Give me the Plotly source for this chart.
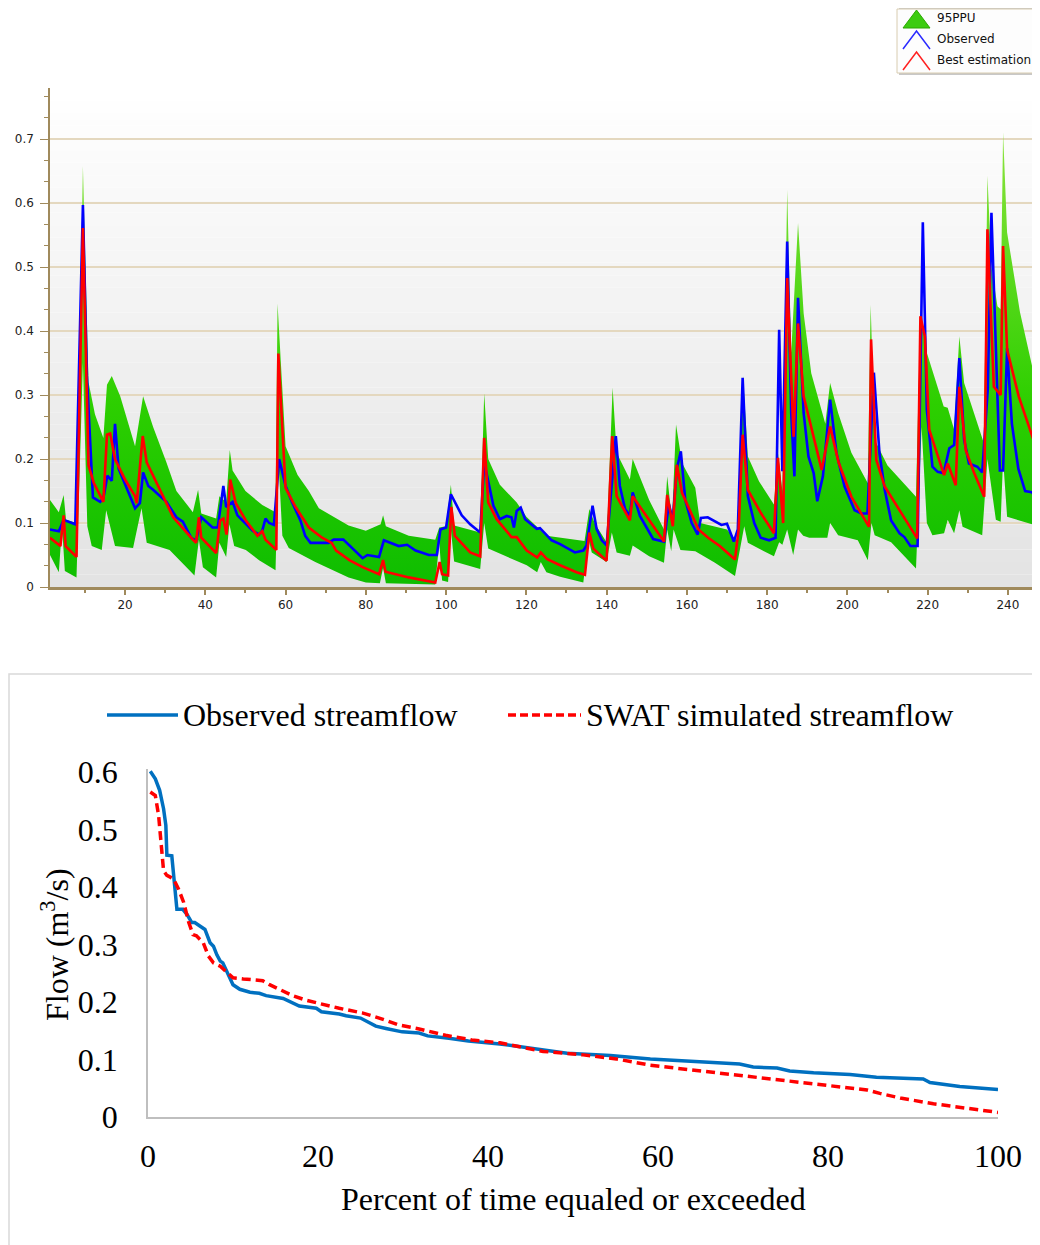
import plotly.graph_objects as go

W, H = 1040, 1245
OFF = 8  # page body margin offset compensation


def px(x):
    return (x - OFF) / W


def py(y):
    return 1 - (y - OFF) / H


# ---------------- Top panel data (x = time step, y = flow) ----------------
obs_pts = [
    (1.3, 0.090), (3.5, 0.087), (4.7, 0.105), (7.6, 0.098), (9.5, 0.597), (10.5, 0.33),
    (12.0, 0.140), (13.8, 0.133), (14.6, 0.139), (15.6, 0.174), (16.7, 0.166), (17.5, 0.255),
    (18.4, 0.185), (20.0, 0.160), (22.5, 0.123), (23.7, 0.131), (24.5, 0.179), (25.8, 0.158),
    (27.0, 0.152), (30.3, 0.133), (32.8, 0.109), (34.4, 0.102), (36.5, 0.077), (37.7, 0.072),
    (39.0, 0.109), (41.8, 0.093), (43.1, 0.093), (44.5, 0.158), (45.2, 0.125), (46.8, 0.133),
    (48.0, 0.112), (51.8, 0.088), (53.4, 0.082), (54.2, 0.088), (55.0, 0.107), (55.9, 0.100),
    (57.1, 0.097), (58.4, 0.200), (60.0, 0.158), (61.6, 0.133), (63.7, 0.104), (64.9, 0.080),
    (66.2, 0.069), (70.7, 0.069), (72.0, 0.074), (74.4, 0.074), (75.7, 0.066), (79.2, 0.045),
    (80.4, 0.050), (83.3, 0.047), (84.5, 0.073), (88.2, 0.064), (90.3, 0.066), (92.4, 0.057),
    (95.7, 0.050), (97.7, 0.050), (98.6, 0.090), (100.0, 0.093), (101.2, 0.145), (102.3, 0.131),
    (103.9, 0.112), (106.0, 0.098), (108.5, 0.085), (109.5, 0.195), (111.8, 0.127), (113.4, 0.106),
    (115.1, 0.111), (116.3, 0.109), (116.9, 0.093), (117.6, 0.119), (118.6, 0.124), (119.7, 0.106),
    (122.6, 0.091), (123.4, 0.092), (126.3, 0.073), (128.4, 0.067), (132.1, 0.054), (134.2, 0.057),
    (135.0, 0.065), (136.5, 0.127), (137.5, 0.091), (138.8, 0.073), (140.0, 0.065), (142.3, 0.236),
    (143.3, 0.158), (144.6, 0.122), (145.8, 0.111), (146.5, 0.148), (148.3, 0.111), (151.6, 0.075),
    (154.3, 0.071), (155.5, 0.130), (156.5, 0.105), (157.5, 0.185), (158.5, 0.212), (159.6, 0.136),
    (161.2, 0.100), (162.7, 0.082), (163.5, 0.108), (165.2, 0.109), (167.0, 0.103), (168.6, 0.097),
    (170.0, 0.099), (171.7, 0.071), (172.7, 0.090), (173.9, 0.327), (175.2, 0.142), (176.8, 0.100),
    (178.4, 0.077), (180.5, 0.073), (182.1, 0.077), (183.0, 0.402), (183.8, 0.181), (185.0, 0.540),
    (186.0, 0.272), (186.8, 0.173), (187.7, 0.452), (189.1, 0.272), (190.3, 0.204), (191.6, 0.178),
    (192.5, 0.134), (193.9, 0.173), (195.7, 0.293), (197.3, 0.209), (199.3, 0.157), (201.8, 0.120),
    (203.5, 0.115), (205.0, 0.115), (206.6, 0.335), (208.0, 0.209), (209.3, 0.152), (210.9, 0.104),
    (213.0, 0.084), (214.2, 0.078), (215.7, 0.064), (217.5, 0.064), (218.8, 0.570), (219.8, 0.277),
    (221.2, 0.188), (222.5, 0.180), (224.0, 0.178), (225.4, 0.217), (226.6, 0.222), (227.9, 0.358),
    (229.1, 0.230), (230.3, 0.193), (232.4, 0.188), (233.6, 0.179), (235.0, 0.310), (235.9, 0.585),
    (238.0, 0.182), (238.8, 0.182), (239.8, 0.373), (241.0, 0.255), (242.6, 0.185), (244.3, 0.150),
    (246.0, 0.148), (247.2, 0.139), (248.0, 0.137),
]

best_pts = [
    (1.3, 0.077), (3.9, 0.064), (4.7, 0.112), (5.2, 0.064), (7.9, 0.047), (9.5, 0.561),
    (10.9, 0.190), (12.2, 0.163), (14.6, 0.133), (15.5, 0.238), (16.3, 0.240), (17.5, 0.200),
    (20.0, 0.168), (22.5, 0.142), (22.9, 0.131), (24.4, 0.236), (25.4, 0.195), (27.8, 0.163),
    (32.0, 0.109), (36.9, 0.074), (37.7, 0.069), (38.4, 0.109), (39.0, 0.077), (42.7, 0.053),
    (43.7, 0.104), (44.5, 0.107), (45.3, 0.082), (46.2, 0.168), (47.6, 0.131), (50.1, 0.104),
    (53.0, 0.080), (54.2, 0.087), (55.0, 0.074), (57.7, 0.058), (58.2, 0.365), (60.0, 0.155),
    (62.5, 0.125), (65.8, 0.093), (69.1, 0.077), (71.5, 0.069), (72.6, 0.057), (75.9, 0.042),
    (79.2, 0.031), (83.3, 0.020), (84.3, 0.042), (84.9, 0.024), (90.7, 0.015), (97.3, 0.007),
    (98.4, 0.039), (99.0, 0.020), (100.5, 0.018), (101.3, 0.125), (102.2, 0.080), (106.0, 0.054),
    (108.5, 0.048), (109.5, 0.233), (110.5, 0.132), (112.6, 0.106), (116.3, 0.078), (117.6, 0.078),
    (120.1, 0.057), (122.7, 0.046), (123.6, 0.054), (125.1, 0.044), (128.4, 0.034), (132.5, 0.023),
    (134.6, 0.019), (135.7, 0.085), (136.7, 0.060), (140.0, 0.041), (141.4, 0.236), (142.5, 0.142),
    (145.8, 0.104), (146.5, 0.142), (153.3, 0.080), (154.3, 0.071), (155.1, 0.144), (156.5, 0.095),
    (157.5, 0.191), (158.8, 0.147), (162.9, 0.090), (165.3, 0.077), (168.2, 0.064), (172.0, 0.043),
    (172.9, 0.090), (173.9, 0.238), (175.2, 0.152), (178.4, 0.116), (181.7, 0.084), (182.7, 0.202),
    (184.0, 0.100), (185.0, 0.483), (186.6, 0.235), (187.7, 0.412), (189.1, 0.298), (191.6, 0.235),
    (193.6, 0.183), (195.7, 0.251), (197.8, 0.195), (201.0, 0.141), (205.4, 0.094), (205.9, 0.387),
    (207.2, 0.199), (209.3, 0.157), (213.4, 0.115), (217.4, 0.076), (218.2, 0.423), (219.3, 0.392),
    (220.4, 0.246), (222.5, 0.204), (224.1, 0.175), (225.0, 0.193), (227.0, 0.159), (227.9, 0.313),
    (229.5, 0.214), (231.6, 0.178), (234.1, 0.141), (234.9, 0.559), (236.5, 0.313), (238.2, 0.300),
    (238.8, 0.533), (239.8, 0.371), (242.7, 0.298), (248.0, 0.200),
]

ppu_upper_pts = [
    (1.3, 0.136), (3.5, 0.117), (4.7, 0.144), (5.3, 0.105), (7.9, 0.100), (9.5, 0.658),
    (10.9, 0.320), (12.5, 0.270), (14.6, 0.233), (15.5, 0.316), (16.7, 0.330), (18.8, 0.298),
    (22.5, 0.220), (24.5, 0.298), (27.0, 0.250), (30.3, 0.195), (32.8, 0.150), (36.9, 0.117),
    (38.2, 0.152), (39.0, 0.115), (42.7, 0.107), (43.5, 0.142), (45.2, 0.133), (46.1, 0.214),
    (46.8, 0.182), (50.0, 0.150), (54.2, 0.128), (57.5, 0.117), (58.0, 0.443), (60.0, 0.220),
    (63.0, 0.175), (65.8, 0.150), (68.3, 0.123), (75.7, 0.096), (80.0, 0.088), (83.7, 0.098),
    (84.3, 0.112), (85.0, 0.095), (90.7, 0.080), (97.3, 0.074), (98.3, 0.093), (100.0, 0.095),
    (101.2, 0.160), (102.0, 0.096), (108.5, 0.085), (109.5, 0.303), (110.5, 0.200), (113.4, 0.160),
    (117.6, 0.132), (120.0, 0.110), (125.0, 0.080), (134.5, 0.072), (135.7, 0.122), (137.0, 0.100),
    (140.0, 0.070), (141.5, 0.312), (142.5, 0.210), (145.8, 0.168), (146.5, 0.200), (150.6, 0.136),
    (154.3, 0.090), (155.1, 0.173), (156.3, 0.105), (157.3, 0.254), (158.8, 0.194), (162.1, 0.155),
    (163.3, 0.100), (170.0, 0.090), (172.7, 0.070), (174.0, 0.330), (175.2, 0.204), (178.0, 0.165),
    (181.7, 0.129), (182.7, 0.210), (183.8, 0.150), (185.0, 0.621), (186.0, 0.366), (187.7, 0.569),
    (189.1, 0.428), (191.0, 0.334), (194.5, 0.255), (195.7, 0.319), (197.7, 0.272), (201.0, 0.210),
    (205.1, 0.162), (205.8, 0.441), (206.8, 0.230), (210.0, 0.190), (217.1, 0.141), (218.2, 0.430),
    (219.8, 0.366), (224.0, 0.282), (225.0, 0.280), (226.6, 0.246), (227.9, 0.392), (229.1, 0.319),
    (234.0, 0.225), (234.9, 0.643), (235.9, 0.500), (237.4, 0.439), (238.2, 0.434), (238.8, 0.711),
    (239.8, 0.554), (243.0, 0.430), (248.0, 0.290),
]

ppu_lower_pts = [
    (1.3, 0.050), (3.5, 0.023), (4.3, 0.095), (5.0, 0.025), (7.9, 0.015), (9.5, 0.350),
    (10.6, 0.095), (11.7, 0.064), (14.2, 0.058), (15.3, 0.120), (17.5, 0.064), (22.0, 0.061),
    (24.1, 0.123), (25.4, 0.069), (31.1, 0.058), (37.3, 0.018), (38.4, 0.074), (39.4, 0.031),
    (42.7, 0.015), (43.5, 0.069), (45.2, 0.047), (46.0, 0.098), (47.2, 0.064), (50.1, 0.058),
    (53.4, 0.042), (57.5, 0.026), (58.2, 0.200), (59.2, 0.080), (60.8, 0.061), (67.4, 0.039),
    (75.7, 0.015), (80.0, 0.007), (83.5, 0.006), (84.3, 0.030), (85.0, 0.006), (97.3, 0.004),
    (98.3, 0.070), (99.0, 0.010), (100.5, 0.008), (101.2, 0.090), (102.0, 0.040), (108.5, 0.028),
    (109.5, 0.100), (110.5, 0.060), (114.3, 0.049), (120.1, 0.034), (122.7, 0.023), (123.6, 0.039),
    (125.0, 0.023), (128.4, 0.016), (134.2, 0.007), (135.5, 0.075), (136.3, 0.054), (140.0, 0.039),
    (141.3, 0.085), (142.5, 0.054), (145.8, 0.049), (146.5, 0.065), (150.6, 0.048), (154.3, 0.038),
    (155.1, 0.090), (156.1, 0.056), (156.7, 0.090), (158.4, 0.058), (162.1, 0.056), (167.0, 0.038),
    (172.0, 0.017), (174.3, 0.095), (175.2, 0.069), (181.7, 0.048), (183.0, 0.070), (183.8, 0.066),
    (185.0, 0.090), (186.5, 0.050), (187.7, 0.090), (189.0, 0.080), (190.5, 0.077), (195.0, 0.077),
    (195.7, 0.100), (197.7, 0.081), (202.6, 0.073), (205.1, 0.042), (206.0, 0.100), (206.8, 0.081),
    (210.9, 0.070), (217.1, 0.029), (218.5, 0.250), (219.8, 0.100), (221.2, 0.081), (224.1, 0.084),
    (225.0, 0.105), (226.6, 0.084), (227.9, 0.120), (228.7, 0.094), (233.6, 0.081), (234.9, 0.200),
    (237.0, 0.105), (238.2, 0.102), (238.8, 0.200), (239.8, 0.110), (248.0, 0.094),
]

# ---------------- Bottom panel data (flow duration curves) ----------------
fdc_obs_pts = [
    (0.27, 0.601), (0.86, 0.588), (1.37, 0.568), (1.83, 0.536), (2.1, 0.507), (2.22, 0.455),
    (2.8, 0.454), (3.0, 0.419), (3.4, 0.361), (4.1, 0.361), (4.6, 0.352), (5.15, 0.338),
    (5.5, 0.338), (6.1, 0.332), (6.7, 0.326), (7.3, 0.303), (7.7, 0.297), (8.1, 0.282),
    (8.5, 0.271), (8.8, 0.268), (9.4, 0.248), (10.0, 0.230), (10.8, 0.222), (12.0, 0.217),
    (13.1, 0.215), (13.9, 0.211), (15.9, 0.206), (16.7, 0.200), (17.8, 0.193), (19.8, 0.189),
    (20.4, 0.183), (22.5, 0.179), (23.3, 0.176), (25.0, 0.172), (25.8, 0.166), (26.8, 0.158),
    (28.0, 0.154), (29.9, 0.148), (31.9, 0.146), (32.9, 0.141), (35.4, 0.137), (37.7, 0.132),
    (41.4, 0.127), (45.3, 0.119), (49.3, 0.111), (54.4, 0.107), (59.1, 0.101), (64.9, 0.096),
    (69.6, 0.092), (71.2, 0.087), (74.0, 0.085), (75.5, 0.080), (78.3, 0.077), (82.6, 0.074),
    (85.7, 0.069), (91.2, 0.066), (92.0, 0.060), (95.5, 0.053), (100.0, 0.048),
]

fdc_sim_pts = [
    (0.27, 0.565), (0.86, 0.559), (1.25, 0.524), (1.52, 0.478), (1.83, 0.428), (2.22, 0.420),
    (3.0, 0.414), (3.6, 0.396), (4.2, 0.373), (4.8, 0.338), (5.3, 0.317), (5.7, 0.315),
    (6.5, 0.303), (7.1, 0.280), (7.7, 0.268), (8.5, 0.262), (9.2, 0.252), (10.0, 0.242),
    (11.2, 0.240), (13.5, 0.237), (14.3, 0.230), (15.5, 0.221), (17.0, 0.211), (18.6, 0.203),
    (20.2, 0.197), (22.5, 0.189), (25.2, 0.181), (27.2, 0.172), (29.5, 0.160), (31.9, 0.153),
    (35.0, 0.142), (38.1, 0.134), (41.4, 0.129), (46.5, 0.114), (51.2, 0.108), (55.1, 0.101),
    (59.1, 0.090), (63.8, 0.082), (68.9, 0.073), (73.6, 0.066), (78.7, 0.057), (84.6, 0.047),
    (86.1, 0.041), (88.5, 0.033), (92.4, 0.023), (98.1, 0.011), (100.0, 0.008),
]

top_y_ticks = [0, 0.1, 0.2, 0.3, 0.4, 0.5, 0.6, 0.7]
top_y_labels = ["0", "0.1", "0.2", "0.3", "0.4", "0.5", "0.6", "0.7"]
top_x_ticks = [20, 40, 60, 80, 100, 120, 140, 160, 180, 200, 220, 240]
bot_x_ticks = [0, 20, 40, 60, 80, 100]
bot_y_ticks = [0, 0.1, 0.2, 0.3, 0.4, 0.5, 0.6]
bot_y_labels = ["0", "0.1", "0.2", "0.3", "0.4", "0.5", "0.6"]


def unzip(pts):
    return [p[0] for p in pts], [p[1] for p in pts]


fig = go.Figure()

# 95PPU band as a closed polygon
ux, uy = unzip(ppu_upper_pts)
lx, ly = unzip(ppu_lower_pts)
fig.add_trace(go.Scatter(
    x=ux + lx[::-1], y=uy + ly[::-1], mode="lines", fill="toself",
    line=dict(width=0, color="rgba(0,0,0,0)"),
    fillgradient=dict(type="vertical", start=0, stop=0.72,
                      colorscale=[[0, "#0ebd00"], [0.4, "#2dcf00"], [1, "#8ee43e"]]),
    xaxis="x", yaxis="y", showlegend=False, hoverinfo="skip", name="95PPU"))

ox, oy = unzip(obs_pts)
fig.add_trace(go.Scatter(x=ox, y=oy, mode="lines", line=dict(color="#0000ff", width=2.6),
                         xaxis="x", yaxis="y", showlegend=False, name="Observed"))
bx, by = unzip(best_pts)
fig.add_trace(go.Scatter(x=bx, y=by, mode="lines", line=dict(color="#ff0000", width=2.6),
                         xaxis="x", yaxis="y", showlegend=False, name="Best estimation"))

fx, fy = unzip(fdc_obs_pts)
fig.add_trace(go.Scatter(x=fx, y=fy, mode="lines", line=dict(color="#0070c0", width=3.5),
                         xaxis="x2", yaxis="y2", showlegend=False, name="Observed streamflow"))
sx, sy = unzip(fdc_sim_pts)
fig.add_trace(go.Scatter(x=sx, y=sy, mode="lines",
                         line=dict(color="#ff0000", width=3.5, dash="9px,5px"),
                         xaxis="x2", yaxis="y2", showlegend=False, name="SWAT simulated streamflow"))

shapes = []
# top plot background gradient (white at top -> light grey at bottom)
N = 40
for i in range(N):
    t = (i + 0.5) / N
    g = int(round(0xe3 + (0xff - 0xe3) * t))
    shapes.append(dict(type="rect", xref="x domain", yref="y domain", x0=0, x1=1,
                       y0=i / N, y1=(i + 1) / N, fillcolor=f"rgb({g},{g},{g})",
                       line=dict(width=0), layer="below"))

# top legend box
shapes.append(dict(type="rect", xref="paper", yref="paper", x0=px(899), x1=px(1043),
                   y0=py(75), y1=py(7), fillcolor="#c8c8c8", line=dict(width=0)))
shapes.append(dict(type="rect", xref="paper", yref="paper", x0=px(897), x1=px(1041),
                   y0=py(73), y1=py(9), fillcolor="#fdfdfd", line=dict(color="#d8ccb0", width=1)))
shapes.append(dict(type="path", xref="paper", yref="paper",
                   path=f"M {px(903)},{py(28)} L {px(916.5)},{py(10)} L {px(930)},{py(28)} Z",
                   fillcolor="#3ccc10", line=dict(color="#2aa800", width=1)))
shapes.append(dict(type="path", xref="paper", yref="paper",
                   path=f"M {px(903)},{py(49)} L {px(916.5)},{py(31)} L {px(930)},{py(49)}",
                   line=dict(color="#2a2aff", width=1.5)))
shapes.append(dict(type="path", xref="paper", yref="paper",
                   path=f"M {px(903)},{py(70)} L {px(916.5)},{py(52)} L {px(930)},{py(70)}",
                   line=dict(color="#ff2020", width=1.5)))

# bottom panel frame
shapes.append(dict(type="rect", xref="paper", yref="paper", x0=px(9), x1=px(1060),
                   y0=py(1270), y1=py(674), line=dict(color="#d9d9d9", width=1.5)))
# bottom legend samples
shapes.append(dict(type="line", xref="paper", yref="paper", x0=px(107), x1=px(178),
                   y0=py(715), y1=py(715), line=dict(color="#0070c0", width=3.5)))
shapes.append(dict(type="line", xref="paper", yref="paper", x0=px(508), x1=px(581),
                   y0=py(715), y1=py(715), line=dict(color="#ff0000", width=3.5, dash="8px,4px")))

serif = "Liberation Serif, Times New Roman, serif"
sans = "DejaVu Sans, Verdana, sans-serif"
annotations = [
    dict(text="95PPU", x=px(935), y=py(18), xref="paper", yref="paper", xanchor="left",
         yanchor="middle", showarrow=False, font=dict(family=sans, size=12, color="#111")),
    dict(text="Observed", x=px(935), y=py(39), xref="paper", yref="paper", xanchor="left",
         yanchor="middle", showarrow=False, font=dict(family=sans, size=12, color="#111")),
    dict(text="Best estimation", x=px(935), y=py(60), xref="paper", yref="paper", xanchor="left",
         yanchor="middle", showarrow=False, font=dict(family=sans, size=12, color="#111")),
    dict(text="Observed streamflow", x=px(181), y=py(715), xref="paper", yref="paper",
         xanchor="left", yanchor="middle", showarrow=False,
         font=dict(family=serif, size=32, color="#000")),
    dict(text="SWAT simulated streamflow", x=px(584), y=py(715), xref="paper", yref="paper",
         xanchor="left", yanchor="middle", showarrow=False,
         font=dict(family=serif, size=32, color="#000")),
    dict(text="Flow (m<sup>3</sup>/s)", x=px(55), y=py(945), xref="paper", yref="paper",
         xanchor="center", yanchor="middle", textangle=-90, showarrow=False,
         font=dict(family=serif, size=32, color="#000")),
    dict(text="Percent of time equaled or exceeded", x=px(573), y=py(1199), xref="paper",
         yref="paper", xanchor="center", yanchor="middle", showarrow=False,
         font=dict(family=serif, size=32, color="#000")),
]

axis_brown = "#a08a5c"
fig.update_layout(
    width=W, height=H, margin=dict(l=0, r=0, t=0, b=0, pad=0, autoexpand=False),
    paper_bgcolor="white", plot_bgcolor="rgba(0,0,0,0)",
    showlegend=False, shapes=shapes, annotations=annotations,
    xaxis=dict(domain=[px(50), px(1040)], range=[1.3, 248], anchor="y", automargin=False,
               tickvals=top_x_ticks, ticks="outside", ticklen=5, tickwidth=1.5,
               tickcolor=axis_brown,
               minor=dict(tick0=0, dtick=10, ticks="outside", ticklen=3, tickcolor=axis_brown),
               showline=True, linecolor=axis_brown, linewidth=2.5, showgrid=False,
               zeroline=False, tickfont=dict(family=sans, size=12, color="#222")),
    yaxis=dict(domain=[py(587), py(88)], range=[0, 0.78], anchor="x", automargin=False,
               tickvals=top_y_ticks, ticktext=top_y_labels, ticks="outside", ticklen=8,
               ticklabelstandoff=4, tickcolor=axis_brown,
               minor=dict(tick0=0, dtick=0.1 / 3, ticks="outside", ticklen=4,
                          tickcolor=axis_brown, showgrid=False),
               showline=True, linecolor=axis_brown, linewidth=1.5,
               showgrid=True, gridcolor="#e4d8bf", gridwidth=1.5, zeroline=False,
               tickfont=dict(family=sans, size=12, color="#222")),
    xaxis2=dict(domain=[px(148), px(998)], range=[0, 100], anchor="y2", automargin=False,
                tickvals=bot_x_ticks, ticks="outside", ticklen=10,
                tickcolor="rgba(0,0,0,0)", showline=True, linecolor="#bfbfbf",
                linewidth=1.5, showgrid=False, zeroline=False,
                tickfont=dict(family=serif, size=32, color="#000")),
    yaxis2=dict(domain=[py(1117), py(769)], range=[0, 0.605], anchor="x2", automargin=False,
                tickvals=bot_y_ticks, ticktext=bot_y_labels, ticks="outside", ticklen=22,
                tickcolor="rgba(0,0,0,0)", showline=True, linecolor="#bfbfbf",
                linewidth=1.5, showgrid=False, zeroline=False,
                tickfont=dict(family=serif, size=32, color="#000")),
)

fig.write_html("out.html")
